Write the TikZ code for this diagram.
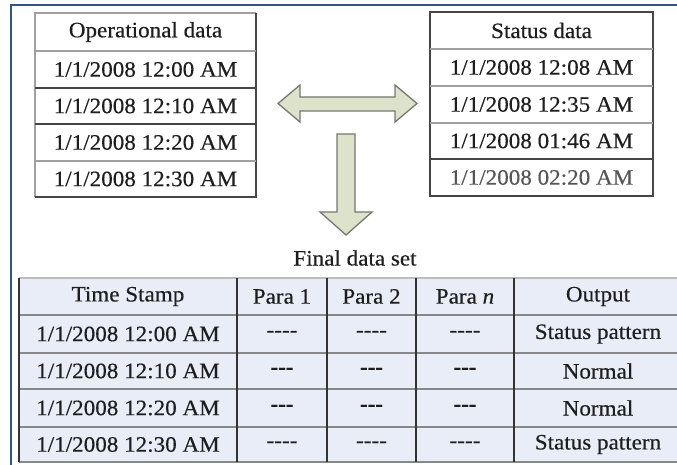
\documentclass[tikz,border=0pt]{standalone}
\usepackage{fontspec}
\setmainfont{Liberation Serif}[FakeStretch=1.05, FakeBold=0.35]
\definecolor{framecol}{RGB}{47,84,140}
\definecolor{arrowfill}{RGB}{221,226,203}
\definecolor{arrowline}{RGB}{118,120,112}
\definecolor{tablefill}{RGB}{232,237,248}
\definecolor{txt}{RGB}{30,30,30}
\definecolor{lightrule}{RGB}{160,160,160}
\definecolor{darkrule}{RGB}{70,70,70}
\begin{document}
\begin{tikzpicture}[x=1bp,y=-1bp,
  font=\fontsize{22bp}{25bp}\selectfont,
  cell/.style={inner sep=0pt, text=txt, anchor=center},
  thinrule/.style={draw=lightrule, line width=1.2bp},
  thickrule/.style={draw=darkrule, line width=1.4bp},
  hrule/.style={draw=lightrule!85!black, line width=2bp},
  vrule/.style={draw=black!80, line width=1.4bp},
  blockarrow/.style={fill=arrowfill, draw=arrowline, line width=1.3bp, line join=miter}]
\useasboundingbox (0,0) rectangle (677,465);
\clip (0,0) rectangle (677,465);

% outer frame (top and left edges)
\draw[framecol, line width=2.2bp] (11,470) -- (11,5) -- (690,5);

% ---------- operational data table ----------
\draw[thinrule] (35,197) -- (35,13) -- (256,13);
\draw[thickrule] (256,13) -- (256,197) -- (35,197);
\draw[thinrule] (35,51) -- (256,51);
\draw[thickrule] (35,88) -- (256,88);
\draw[thickrule] (35,124) -- (256,124);
\draw[thinrule] (35,161) -- (256,161);
\node[cell] (op0) at (145.5,32)  {Operational data};
\node[cell] (op1) at (145.5,69.5){1/1/2008 12:00 AM};
\node[cell] (op2) at (145.5,106) {1/1/2008 12:10 AM};
\node[cell] (op3) at (145.5,142.5){1/1/2008 12:20 AM};
\node[cell] (op4) at (145.5,179) {1/1/2008 12:30 AM};

% ---------- status data table ----------
\draw[thickrule] (430,196) -- (430,12) -- (653,12) -- (653,196) -- cycle;
\draw[thinrule] (430,49) -- (653,49);
\draw[thinrule] (430,86) -- (653,86);
\draw[thinrule] (430,123) -- (653,123);
\draw[thickrule] (430,159) -- (653,159);
\node[cell] (st0) at (541.5,30.5) {Status data};
\node[cell] (st1) at (541.5,67.5) {1/1/2008 12:08 AM};
\node[cell] (st2) at (541.5,104.5){1/1/2008 12:35 AM};
\node[cell] (st3) at (541.5,141)  {1/1/2008 01:46 AM};
\node[cell, text=txt!75] (st4) at (541.5,177.5){1/1/2008 02:20 AM};

% ---------- block arrows ----------
\draw[blockarrow] (278,103.5) -- (300,85) -- (300,97) -- (395,97) -- (395,85)
  -- (417,103.5) -- (395,122) -- (395,111) -- (300,111) -- (300,122) -- cycle;
\draw[blockarrow] (337,134) -- (355,134) -- (355,212) -- (372,212)
  -- (346,235) -- (320,212) -- (337,212) -- cycle;

% ---------- final data set ----------
\node[cell] (title) at (355,258) {Final data set};

\fill[tablefill] (19,278) rectangle (690,462);
\draw[draw=lightrule!70, line width=2bp] (19,278) -- (690,278);
\foreach \yy in {315,353,389,427,462}
  \draw[hrule] (19,\yy) -- (690,\yy);
\foreach \xx in {19,237,327,416,514}
  \draw[vrule] (\xx,278) -- (\xx,462);

\node[cell] (h0) at (128,296.5)  {Time Stamp};
\node[cell] (h1) at (282,296.5)  {Para 1};
\node[cell] (h2) at (371.5,296.5){Para 2};
\node[cell] (h3) at (465,296.5)  {Para \textit{n}};
\node[cell] (h4) at (598,296.5)  {Output};

\node[cell] (r1c0) at (128,334)   {1/1/2008 12:00 AM};
\node[cell] (r1c1) at (282,334)   {-{}-{}-{}-};
\node[cell] (r1c2) at (371.5,334) {-{}-{}-{}-};
\node[cell] (r1c3) at (465,334)   {-{}-{}-{}-};
\node[cell] (r1c4) at (598,334)   {Status pattern};

\node[cell] (r2c0) at (128,371)   {1/1/2008 12:10 AM};
\node[cell] (r2c1) at (282,371)   {\bfseries -{}-{}-};
\node[cell] (r2c2) at (371.5,371) {\bfseries -{}-{}-};
\node[cell] (r2c3) at (465,371)   {\bfseries -{}-{}-};
\node[cell] (r2c4) at (598,371)   {Normal};

\node[cell] (r3c0) at (128,408)   {1/1/2008 12:20 AM};
\node[cell] (r3c1) at (282,408)   {\bfseries -{}-{}-};
\node[cell] (r3c2) at (371.5,408) {\bfseries -{}-{}-};
\node[cell] (r3c3) at (465,408)   {\bfseries -{}-{}-};
\node[cell] (r3c4) at (598,408)   {Normal};

\node[cell] (r4c0) at (128,444.5) {1/1/2008 12:30 AM};
\node[cell] (r4c1) at (282,444.5) {-{}-{}-{}-};
\node[cell] (r4c2) at (371.5,444.5){-{}-{}-{}-};
\node[cell] (r4c3) at (465,444.5) {-{}-{}-{}-};
\node[cell] (r4c4) at (598,444.5) {Status pattern};
\end{tikzpicture}
\end{document}
